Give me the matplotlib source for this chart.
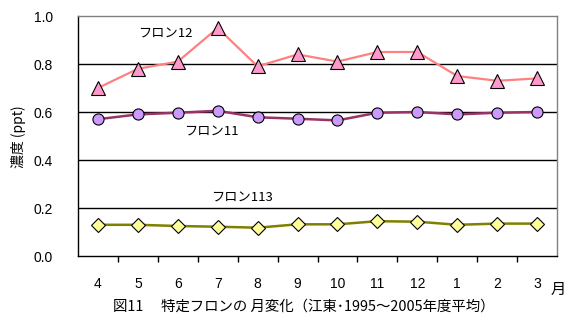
import matplotlib
matplotlib.use("Agg")
import matplotlib.pyplot as plt
import numpy as np

plt.rcParams['font.family'] = ['Noto Sans CJK JP', 'DejaVu Sans']

months = ['4', '5', '6', '7', '8', '9', '10', '11', '12', '1', '2', '3']
freon12 = [0.70, 0.78, 0.81, 0.95, 0.79, 0.84, 0.81, 0.85, 0.85, 0.75, 0.73, 0.74]
freon11 = [0.57, 0.59, 0.597, 0.605, 0.578, 0.572, 0.565, 0.597, 0.60, 0.59, 0.597, 0.60]
freon113 = [0.13, 0.13, 0.125, 0.122, 0.118, 0.132, 0.132, 0.145, 0.143, 0.13, 0.135, 0.135]
yticks = [0.0, 0.2, 0.4, 0.6, 0.8, 1.0]

fig = plt.figure(figsize=(5.77, 3.25), dpi=100)
ax = fig.add_axes([78/577, 69/325, 479/577, 240/325])

x = np.arange(len(months))
ax.set_xlim(-0.5, len(months) - 0.5)
ax.set_ylim(0, 1.0)

for v in yticks[1:-1]:
    ax.axhline(v, color='black', lw=1.0, zorder=1)

ax.plot(x, freon12, color='#FF8080', lw=1.6, marker='^', markersize=10,
        markerfacecolor='#FF99CC', markeredgecolor='black', markeredgewidth=0.8, zorder=3)
ax.plot(x, freon11, color='#993366', lw=1.8, marker='o', markersize=8,
        markerfacecolor='#CC99FF', markeredgecolor='black', markeredgewidth=0.8, zorder=3)
ax.plot(x, freon113, color='#808000', lw=1.8, marker='D', markersize=7,
        markerfacecolor='#FFFF99', markeredgecolor='black', markeredgewidth=0.8, zorder=3)

tickfont = dict(family=['Liberation Sans', 'DejaVu Sans'], size=10)
ax.set_yticks(yticks)
ax.set_yticklabels([f'{v:.1f}' for v in yticks], **tickfont)
ax.tick_params(axis='y', length=0, pad=18)

ax.set_xticks(x)
ax.set_xticklabels(months, **tickfont)
ax.set_xticks(np.arange(0.5, len(months) - 0.5, 1.0), minor=True)
ax.tick_params(axis='x', which='major', length=0, pad=15)
ax.tick_params(axis='x', which='minor', length=4, direction='out', width=1)

for s in ['top', 'right']:
    ax.spines[s].set_color('#808080')
    ax.spines[s].set_linewidth(1.0)
for s in ['left', 'bottom']:
    ax.spines[s].set_color('black')
    ax.spines[s].set_linewidth(1.0)

ax.text(1.0, 0.925, 'フロン12', fontsize=9.5, ha='left', va='center')
ax.text(2.16, 0.515, 'フロン11', fontsize=9.5, ha='left', va='center')
ax.text(2.83, 0.24, 'フロン113', fontsize=9.5, ha='left', va='center')

fig.text(18/577, 1 - 137/325, '濃度 (ppt)', rotation=90, fontsize=10, ha='center', va='center')
fig.text(558/577, 1 - 289/325, '月', fontsize=11, ha='center', va='center')
fig.text(113/577, 1 - 307/325, '図11　 特定フロンの 月変化（江東･1995～2005年度平均）',
         fontsize=10.4, ha='left', va='center')

fig.savefig('out.png', dpi=100)
